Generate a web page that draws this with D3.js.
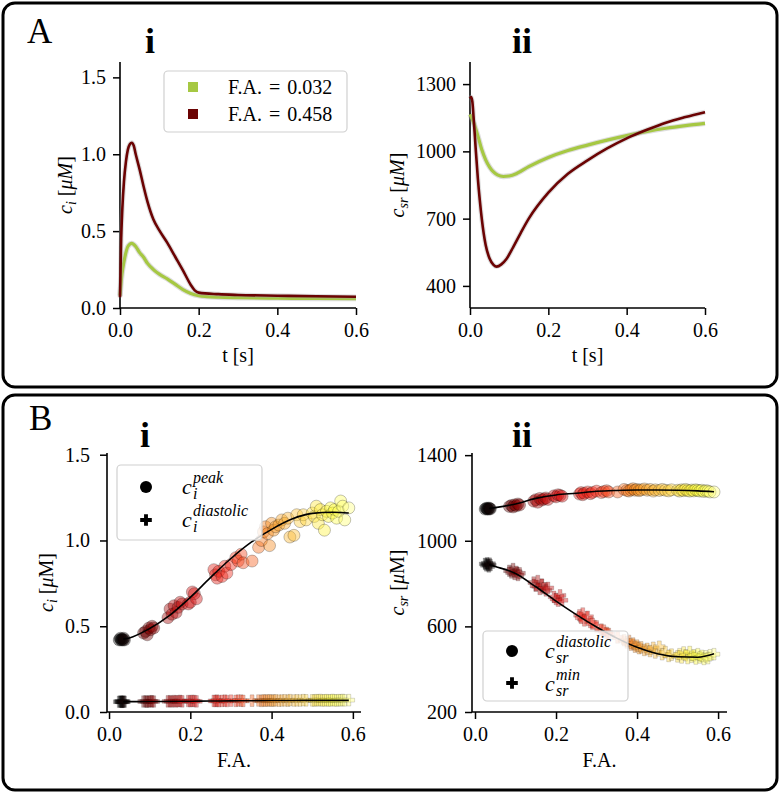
<!DOCTYPE html>
<html><head><meta charset="utf-8">
<script src="https://cdn.jsdelivr.net/npm/d3@7"></script>
<style>
body{margin:0;background:#fff;}
svg text{font-family:"Liberation Serif","DejaVu Serif",serif;fill:#000;}
</style></head><body>
<svg id="chart" width="781" height="794"></svg>
<script>
// ---------- Panel A-i : c_i vs t ----------
const tCiLow  = [0,0.005,0.01,0.015,0.02,0.03,0.04,0.05,0.06,0.07,0.085,0.1,0.12,0.14,0.16,0.18,0.2,0.22,0.25,0.3,0.4,0.5,0.6];
const ciLow   = [0.08,0.22,0.30,0.36,0.40,0.42,0.40,0.36,0.33,0.29,0.25,0.22,0.19,0.155,0.12,0.095,0.08,0.074,0.070,0.067,0.064,0.062,0.061];
const tCiHigh = [0,0.003,0.006,0.01,0.015,0.02,0.025,0.03,0.035,0.04,0.05,0.06,0.07,0.085,0.1,0.12,0.14,0.16,0.18,0.19,0.2,0.25,0.3,0.4,0.5,0.6];
const ciHigh  = [0.07,0.45,0.65,0.82,0.95,1.03,1.065,1.075,1.055,1.0,0.9,0.79,0.69,0.575,0.505,0.425,0.335,0.245,0.15,0.115,0.1,0.09,0.085,0.08,0.076,0.073];
// ---------- Panel A-ii : c_sr vs t ----------
const tCsrLow  = [0,0.01,0.02,0.03,0.04,0.05,0.06,0.07,0.085,0.1,0.12,0.15,0.2,0.25,0.3,0.35,0.4,0.45,0.5,0.55,0.6];
const csrLow   = [1165,1125,1070,1008,962,930,908,895,888,890,902,932,973,1004,1028,1050,1070,1088,1103,1115,1125];
const tCsrHigh = [0,0.003,0.006,0.01,0.015,0.02,0.025,0.03,0.04,0.05,0.06,0.068,0.08,0.093,0.11,0.13,0.15,0.2,0.25,0.3,0.35,0.4,0.45,0.5,0.55,0.6];
const csrHigh  = [1235,1242,1222,1130,1000,880,782,700,582,522,494,486,496,520,572,638,700,816,900,960,1013,1058,1095,1128,1153,1175];
const legendA  = ["F.A. = 0.032","F.A. = 0.458"];
const colorsA  = ["#a6c843","#6b0303"];

// ---------- Panel B : summary vs F.A. ----------
const fa = [0.025,0.028,0.030,0.032,0.034,0.036,0.038,
  0.085,0.090,0.094,0.098,0.102,0.106,0.110,
  0.145,0.150,0.155,0.160,0.165,0.170,0.175,0.180,0.195,0.200,0.205,0.210,0.215,
  0.258,0.262,0.266,0.270,0.278,0.285,0.290,0.300,0.312,0.318,0.325,0.330,
  0.352,0.368,0.375,0.380,0.385,0.390,0.395,0.400,0.405,0.410,0.418,
  0.425,0.432,0.440,0.445,0.455,0.462,0.470,0.478,0.485,
  0.500,0.505,0.510,0.515,0.520,0.525,0.530,0.535,0.540,0.545,0.550,0.555,0.560,0.565,0.570,0.575,0.580,0.590];
const ciPeak = [0.42,0.43,0.42,0.425,0.42,0.43,0.42,
  0.46,0.47,0.45,0.49,0.48,0.50,0.49,
  0.55,0.60,0.57,0.62,0.58,0.61,0.64,0.63,0.63,0.64,0.70,0.69,0.66,
  0.83,0.80,0.78,0.82,0.79,0.85,0.81,0.86,0.90,0.88,0.92,0.87,
  0.88,0.96,1.00,1.05,1.08,1.04,0.97,1.10,1.06,1.08,1.09,
  1.12,1.10,1.13,1.02,1.03,1.15,1.11,1.15,1.12,
  1.16,1.14,1.20,1.10,1.18,1.15,1.06,1.17,1.14,1.19,1.16,1.18,1.13,1.17,1.23,1.20,1.12,1.19];
const ciDiast = [0.060,0.061,0.060,0.059,0.060,0.061,0.060,
  0.061,0.062,0.060,0.061,0.063,0.062,0.061,
  0.062,0.063,0.061,0.064,0.062,0.063,0.065,0.062,0.064,0.063,0.065,0.064,0.062,
  0.065,0.064,0.066,0.063,0.065,0.066,0.064,0.066,0.065,0.067,0.066,0.065,
  0.066,0.067,0.065,0.068,0.066,0.067,0.068,0.066,0.067,0.068,0.066,
  0.067,0.068,0.066,0.069,0.067,0.068,0.067,0.069,0.068,
  0.068,0.067,0.069,0.068,0.070,0.067,0.068,0.069,0.067,0.068,0.070,0.068,0.067,0.069,0.068,0.070,0.068,0.069];
const csrDiast = [1148,1152,1150,1147,1153,1150,1149,
  1160,1165,1158,1168,1163,1172,1167,
  1185,1192,1180,1198,1190,1195,1200,1193,1210,1205,1215,1212,1208,
  1218,1225,1215,1222,1228,1220,1226,1232,1225,1230,1234,1228,
  1228,1240,1235,1232,1238,1243,1236,1240,1234,1238,1242,
  1236,1240,1232,1238,1235,1240,1236,1233,1238,
  1236,1232,1238,1234,1240,1235,1232,1237,1233,1238,1235,1232,1236,1230,1234,1232,1228,1228];
const csrMin = [892,885,895,888,880,893,886,
  860,852,868,845,855,840,848,
  805,790,812,775,795,778,768,780,738,728,720,745,722,
  652,640,660,628,645,620,612,600,585,580,570,565,
  548,535,525,532,515,520,505,510,498,502,490,
  495,485,500,478,505,470,480,462,468,
  460,470,455,478,465,452,480,458,465,450,470,455,462,448,460,452,465,470];
const fitFA        = [0.035,0.05,0.1,0.15,0.2,0.25,0.3,0.35,0.4,0.45,0.5,0.55,0.59];
const fitCiPeak    = [0.425,0.432,0.487,0.565,0.668,0.785,0.895,0.99,1.065,1.125,1.158,1.165,1.16];
const fitCiDiast   = [0.060,0.0605,0.061,0.062,0.063,0.064,0.065,0.066,0.067,0.067,0.068,0.068,0.068];
const fitCsrDiast  = [1151,1155,1172,1198,1214,1222,1231,1235,1237,1237,1236,1233,1229];
const fitCsrMin    = [889,880,847,785,718,655,597,545,502,472,458,456,472];
// colour map stops (F.A. -> colour)
const cmapFA  = [0.03,0.1,0.2,0.3,0.4,0.47,0.55,0.6];
const cmapCol = ["#000000","#800000","#d01010","#f52a1a","#f59020","#ffcc40","#ffff40","#ffff90"];

const svg = d3.select("#chart");
const SERIF = "'Liberation Serif','DejaVu Serif',serif";

// panel frames
svg.append("rect").attr("x",3).attr("y",3).attr("width",774).attr("height",384).attr("rx",12)
  .attr("fill","none").attr("stroke","#000").attr("stroke-width",3);
svg.append("rect").attr("x",3).attr("y",395).attr("width",774).attr("height",395).attr("rx",12)
  .attr("fill","none").attr("stroke","#000").attr("stroke-width",3);
svg.append("text").attr("x",27).attr("y",43).attr("font-size",35).text("A");
svg.append("text").attr("x",29).attr("y",430).attr("font-size",35).text("B");

function axes(o){
  const g = svg.append("g");
  g.append("line").attr("x1",o.xr[0]).attr("x2",o.xr[1]).attr("y1",o.yr[0]).attr("y2",o.yr[0])
    .attr("stroke","#000").attr("stroke-width",1.6);
  g.append("line").attr("x1",o.xr[0]).attr("x2",o.xr[0]).attr("y1",o.yr[0]).attr("y2",o.yr[1])
    .attr("stroke","#000").attr("stroke-width",1.6);
  const gx = g.append("g").attr("transform",`translate(0,${o.yr[0]})`)
    .call(d3.axisBottom(o.x).tickValues(o.xTicks).tickFormat(o.xFmt).tickSize(7).tickPadding(o.xPad));
  const gy = g.append("g").attr("transform",`translate(${o.xr[0]},0)`)
    .call(d3.axisLeft(o.y).tickValues(o.yTicks).tickFormat(o.yFmt).tickSize(7).tickPadding(o.yPad));
  [gx,gy].forEach(a=>{
    a.select(".domain").remove();
    a.attr("font-family",SERIF).attr("font-size",20);
    a.selectAll("line").attr("stroke","#000").attr("stroke-width",1.5);
    a.selectAll("text").attr("fill","#000");
  });
  g.append("text").attr("x",(o.xr[0]+o.xr[1])/2).attr("y",o.yr[0]+o.xLabDy)
    .attr("text-anchor","middle").attr("font-size",20).text(o.xLabel);
  const yl = g.append("text").attr("transform",`translate(${o.yLabX},${(o.yr[0]+o.yr[1])/2}) rotate(-90)`)
    .attr("text-anchor","middle").attr("font-size",20);
  yl.append("tspan").attr("font-style","italic").text("c");
  yl.append("tspan").attr("font-style","italic").attr("font-size",14).attr("dy",4).text(o.ySub);
  yl.append("tspan").attr("dy",-4).text(" [");
  yl.append("tspan").attr("font-style","italic").text("μ");
  yl.append("tspan").attr("font-style",o.mItalic?"italic":"normal").text("M");
  yl.append("tspan").text("]");
  svg.append("text").attr("x",o.titleX).attr("y",o.titleY).attr("text-anchor","middle")
    .attr("font-size",36).attr("font-weight","bold").text(o.title);
}

// ===== A-i =====
const xAi = d3.scaleLinear().domain([0,0.6]).range([120,356]);
const yAi = d3.scaleLinear().domain([0,1.6]).range([308,62]);
axes({x:xAi,y:yAi,xr:[120,356],yr:[308,62],xTicks:[0,0.2,0.4,0.6],yTicks:[0,0.5,1.0,1.5],
  xFmt:d3.format(".1f"),yFmt:d3.format(".1f"),xPad:8,yPad:7,xLabel:"t [s]",xLabDy:54,
  yLabX:72,ySub:"i",mItalic:true,title:"i",titleX:150,titleY:53});
// ===== A-ii =====
const xAii = d3.scaleLinear().domain([0,0.6]).range([470,705]);
const yAii = d3.scaleLinear().domain([301.5,1398.5]).range([308,62]);
axes({x:xAii,y:yAii,xr:[470,705],yr:[308,62],xTicks:[0,0.2,0.4,0.6],yTicks:[400,700,1000,1300],
  xFmt:d3.format(".1f"),yFmt:d3.format("d"),xPad:8,yPad:7,xLabel:"t [s]",xLabDy:54,
  yLabX:404,ySub:"sr",mItalic:true,title:"ii",titleX:522,titleY:53});

function drawLine(x,y,ts,vs,color,w){
  const pts = ts.map((t,i)=>[t,vs[i]]);
  const line = d3.line().x(d=>x(d[0])).y(d=>y(d[1])).curve(d3.curveMonotoneX);
  svg.append("path").attr("d",line(pts)).attr("fill","none").attr("stroke","#a0a0a0")
    .attr("stroke-opacity",0.35).attr("stroke-width",w+2.2).attr("stroke-linejoin","round");
  svg.append("path").attr("d",line(pts)).attr("fill","none").attr("stroke",color)
    .attr("stroke-width",w).attr("stroke-linejoin","round");
}
drawLine(xAi,yAi,tCiLow,ciLow,colorsA[0],3.2);
drawLine(xAi,yAi,tCiHigh,ciHigh,colorsA[1],2.6);
drawLine(xAii,yAii,tCsrLow,csrLow,colorsA[0],3.2);
drawLine(xAii,yAii,tCsrHigh,csrHigh,colorsA[1],2.6);

// legend A-i
svg.append("rect").attr("x",164).attr("y",71).attr("width",183).attr("height",61).attr("rx",4)
  .attr("fill","#fff").attr("fill-opacity",0.8).attr("stroke","#d0d0d0").attr("stroke-width",1.2);
legendA.forEach((s,i)=>{
  const cy = 87 + i*27;
  svg.append("rect").attr("x",188).attr("y",cy-5).attr("width",10).attr("height",10).attr("fill",colorsA[i]);
  svg.append("text").attr("x",228).attr("y",cy+6.5).attr("font-size",20).style("word-spacing","2px").text(s);
});

// ===== B =====
const cmap = d3.scaleLinear().domain(cmapFA).range(cmapCol).clamp(true);

const xBi = d3.scaleLinear().domain([-0.005,0.62]).range([107,361]);
const yBi = d3.scaleLinear().domain([0,1.51]).range([712,453]);
axes({x:xBi,y:yBi,xr:[107,361],yr:[712,453],xTicks:[0,0.2,0.4,0.6],yTicks:[0,0.5,1.0,1.5],
  xFmt:d3.format(".1f"),yFmt:d3.format(".1f"),xPad:8,yPad:10,xLabel:"F.A.",xLabDy:55,
  yLabX:53,ySub:"i",mItalic:false,title:"i",titleX:145,titleY:447});
const xBii = d3.scaleLinear().domain([-0.0074,0.622]).range([472,727]);
const yBii = d3.scaleLinear().domain([200,1410]).range([712,453]);
axes({x:xBii,y:yBii,xr:[472,727],yr:[712,453],xTicks:[0,0.2,0.4,0.6],yTicks:[200,600,1000,1400],
  xFmt:d3.format(".1f"),yFmt:d3.format("d"),xPad:8,yPad:8,xLabel:"F.A.",xLabDy:55,
  yLabX:404,ySub:"sr",mItalic:false,title:"ii",titleX:522,titleY:447});

const cross = d3.symbol().type(d3.symbolCross).size(75);
function scatter(x,y,vals,kind){
  const g = svg.append("g");
  const data = fa.map((f,i)=>({f,v:vals[i]}));
  if(kind==="o"){
    g.selectAll("circle").data(data).join("circle")
      .attr("cx",d=>x(d.f)).attr("cy",d=>y(d.v)).attr("r",6)
      .attr("fill",d=>cmap(d.f)).attr("fill-opacity",0.42)
      .attr("stroke","#000").attr("stroke-opacity",0.3).attr("stroke-width",0.8);
  } else {
    g.selectAll("path").data(data).join("path")
      .attr("d",cross).attr("transform",d=>`translate(${x(d.f)},${y(d.v)})`)
      .attr("fill",d=>cmap(d.f)).attr("fill-opacity",0.42)
      .attr("stroke","#000").attr("stroke-opacity",0.25).attr("stroke-width",0.6);
  }
}
function fit(x,y,vals){
  const line = d3.line().x((d,i)=>x(fitFA[i])).y(d=>y(d)).curve(d3.curveMonotoneX);
  svg.append("path").attr("d",line(vals)).attr("fill","none").attr("stroke","#000").attr("stroke-width",1.6);
}
scatter(xBi,yBi,ciPeak,"o");
scatter(xBi,yBi,ciDiast,"+");
fit(xBi,yBi,fitCiPeak);
fit(xBi,yBi,fitCiDiast);
scatter(xBii,yBii,csrDiast,"o");
scatter(xBii,yBii,csrMin,"+");
fit(xBii,yBii,fitCsrDiast);
fit(xBii,yBii,fitCsrMin);

function mathLabel(x,base,sub,sup){
  svg.append("text").attr("x",x).attr("y",base).attr("font-size",22).attr("font-style","italic").text("c");
  svg.append("text").attr("x",x+11).attr("y",base-11).attr("font-size",16).attr("font-style","italic").text(sup);
  svg.append("text").attr("x",x+11).attr("y",base+5).attr("font-size",16).attr("font-style","italic").text(sub);
}
function legendB(bx,by,bw,bh,mx,rows){
  svg.append("rect").attr("x",bx).attr("y",by).attr("width",bw).attr("height",bh).attr("rx",4)
    .attr("fill","#fff").attr("fill-opacity",0.8).attr("stroke","#d0d0d0").attr("stroke-width",1.2);
  rows.forEach(r=>{
    if(r.kind==="o") svg.append("circle").attr("cx",mx).attr("cy",r.my).attr("r",6).attr("fill","#000");
    else svg.append("path").attr("d",cross()).attr("transform",`translate(${mx},${r.my})`).attr("fill","#000");
    mathLabel(r.tx,r.base,r.sub,r.sup);
  });
}
legendB(117,465,145,75,146,[
  {kind:"o",my:487,tx:182,base:494,sub:"i",sup:"peak"},
  {kind:"+",my:520,tx:182,base:527,sub:"i",sup:"diastolic"}]);
legendB(483,631,145,70,512,[
  {kind:"o",my:651,tx:545,base:658,sub:"sr",sup:"diastolic"},
  {kind:"+",my:683,tx:545,base:691,sub:"sr",sup:"min"}]);
</script>
</body></html>
